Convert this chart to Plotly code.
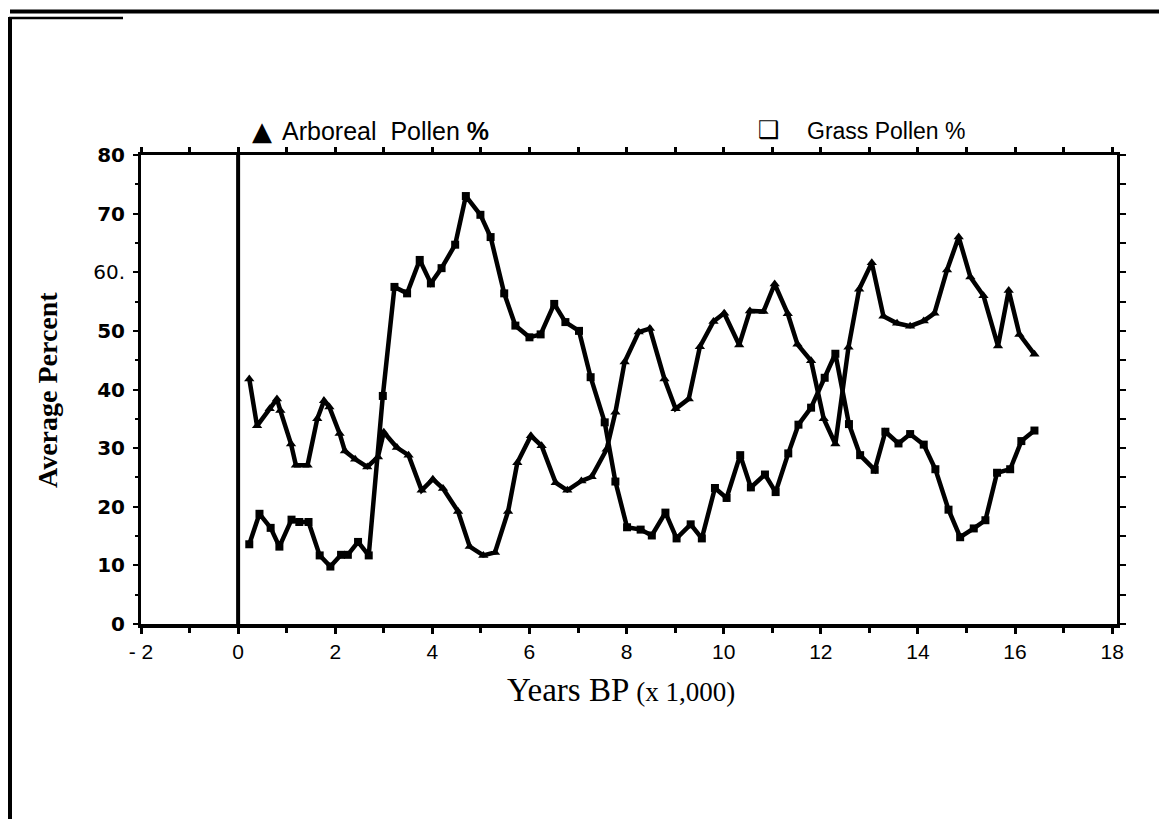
import plotly.graph_objects as go

# ---- data ----
grass_x = [0.23, 0.44, 0.67, 0.85, 1.10, 1.26, 1.45, 1.68, 1.90, 2.12, 2.26, 2.47, 2.69,
           2.98, 3.22, 3.48, 3.74, 3.97, 4.19, 4.47, 4.69, 4.99, 5.20, 5.48, 5.71, 6.00,
           6.23, 6.51, 6.74, 7.02, 7.26, 7.55, 7.77, 8.01, 8.29, 8.52, 8.80, 9.03, 9.32,
           9.55, 9.82, 10.06, 10.34, 10.56, 10.85, 11.07, 11.33, 11.54, 11.80, 12.08, 12.30,
           12.58, 12.81, 13.11, 13.33, 13.60, 13.84, 14.12, 14.36, 14.63, 14.87, 15.15,
           15.39, 15.63, 15.90, 16.13, 16.40]
grass_y = [13.6, 18.8, 16.4, 13.2, 17.8, 17.4, 17.4, 11.7, 9.8, 11.8, 11.8, 14.0, 11.7,
           38.9, 57.5, 56.4, 62.1, 58.1, 60.7, 64.7, 73.0, 69.8, 66.0, 56.4, 50.9, 48.9,
           49.4, 54.6, 51.5, 50.0, 42.1, 34.4, 24.3, 16.5, 16.1, 15.1, 19.0, 14.6, 17.0,
           14.6, 23.2, 21.5, 28.8, 23.3, 25.5, 22.5, 29.1, 34.0, 36.9, 42.0, 46.1,
           34.1, 28.8, 26.3, 32.8, 30.8, 32.4, 30.6, 26.4, 19.5, 14.8, 16.3,
           17.7, 25.8, 26.4, 31.2, 33.0]

arb_x = [0.23, 0.39, 0.65, 0.80, 0.87, 1.09, 1.19, 1.43, 1.63, 1.77, 1.88, 2.09, 2.20,
         2.41, 2.66, 2.88, 3.00, 3.27, 3.51, 3.78, 4.01, 4.22, 4.53, 4.77, 5.05, 5.29,
         5.56, 5.75, 6.03, 6.25, 6.54, 6.78, 7.07, 7.28, 7.59, 7.77, 7.96, 8.25, 8.48,
         8.78, 9.01, 9.28, 9.51, 9.79, 10.01, 10.32, 10.54, 10.82, 11.05, 11.32, 11.52,
         11.80, 12.06, 12.30, 12.57, 12.79, 13.05, 13.29, 13.57, 13.84, 14.12, 14.34,
         14.60, 14.84, 15.08, 15.35, 15.65, 15.87, 16.09, 16.40]
arb_y = [41.8, 33.8, 36.7, 38.4, 36.4, 30.7, 27.1, 27.1, 35.0, 38.1, 37.0, 32.5, 29.5,
         28.1, 26.8, 28.5, 32.7, 30.1, 28.8, 22.8, 24.7, 23.1, 19.2, 13.2, 11.7, 12.2,
         19.2, 27.5, 32.1, 30.4, 24.1, 22.8, 24.4, 25.1, 29.8, 36.1, 44.7, 49.8, 50.4,
         41.8, 36.7, 38.4, 47.3, 51.6, 53.0, 47.6, 53.4, 53.3, 58.0, 52.9, 47.7,
         44.9, 35.0, 30.7, 47.2, 57.1, 61.6, 52.5, 51.3, 50.8, 51.7, 53.0,
         60.4, 66.0, 59.2, 56.0, 47.4, 56.9, 49.4, 46.0]

x_tickvals = [-2, 0, 2, 4, 6, 8, 10, 12, 14, 16, 18]
x_ticktext = ["- 2", "0", "2", "4", "6", "8", "10", "12", "14", "16", "18"]
y_tickvals = [0, 10, 20, 30, 40, 50, 60, 70, 80]
y_ticktext = ["<b>0</b>", "<b>10</b>", "<b>20</b>", "<b>30</b>", "<b>40</b>",
              "<b>50</b>", "60.", "<b>70</b>", "<b>80</b>"]

X_RANGE = [-2, 18.1]
Y_RANGE = [0, 80]

fig = go.Figure()

fig.add_trace(go.Scatter(
    x=arb_x, y=arb_y, mode="lines+markers", name="Arboreal Pollen %",
    line=dict(color="black", width=4.5),
    marker=dict(symbol="triangle-up", size=9, color="black"),
    showlegend=False))
fig.add_trace(go.Scatter(
    x=grass_x, y=grass_y, mode="lines+markers", name="Grass Pollen %",
    line=dict(color="black", width=4.5),
    marker=dict(symbol="square", size=8, color="black"),
    showlegend=False))
# helper trace so that the mirrored top/right axes are drawn
fig.add_trace(go.Scatter(x=[1], y=[1], xaxis="x2", yaxis="y2", mode="markers",
                         marker=dict(opacity=0), hoverinfo="skip", showlegend=False))

# page offset (default body margin of the html page)
OFF = 8
W, H = 1167 - OFF, 819 - OFF
# plot area in screen pixels
PL, PR, PT, PB = 141, 1117, 155, 624
L, R, T, B = PL - OFF, 1167 - PR, PT - OFF, 819 - PB
pw, ph = W - L - R, H - T - B


def px(xs):
    """screen x pixel -> paper coordinate"""
    return (xs - PL) / pw


def py(ys):
    """screen y pixel -> paper coordinate"""
    return (PB - ys) / ph


fig.update_layout(
    width=W, height=H, autosize=False,
    margin=dict(l=L, r=R, t=T, b=B, pad=0),
    paper_bgcolor="white", plot_bgcolor="white",
    xaxis=dict(range=X_RANGE, tickmode="array", tickvals=x_tickvals, ticktext=x_ticktext,
               ticks="outside", ticklen=6, tickwidth=3, tickcolor="black",
               minor=dict(dtick=1, tick0=-2, ticks="outside", ticklen=5, tickwidth=3,
                          tickcolor="black"),
               showline=True, linewidth=4, linecolor="black",
               showgrid=False, zeroline=False,
               tickfont=dict(family="Liberation Sans, Arial", size=21, color="black")),
    yaxis=dict(range=Y_RANGE, tickmode="array", tickvals=y_tickvals, ticktext=y_ticktext,
               ticks="outside", ticklen=5, tickwidth=2, tickcolor="black",
               minor=dict(dtick=5, tick0=0, ticks="outside", ticklen=3, tickwidth=2,
                          tickcolor="black"),
               showline=True, linewidth=3, linecolor="black",
               showgrid=False, zeroline=False, ticklabelstandoff=4,
               tickfont=dict(family="DejaVu Sans", size=20, color="black")),
    xaxis2=dict(range=X_RANGE, overlaying="x", side="top", tickmode="linear", tick0=0,
                dtick=1, ticks="outside", ticklen=5, tickwidth=3, tickcolor="black",
                showticklabels=False, showline=True, linewidth=3, linecolor="black",
                showgrid=False, zeroline=False),
    yaxis2=dict(range=Y_RANGE, overlaying="y", side="right", tickmode="linear", tick0=0,
                dtick=5, ticks="outside", ticklen=6, tickwidth=2, tickcolor="black",
                showticklabels=False, showline=True, linewidth=2.5, linecolor="black",
                showgrid=False, zeroline=False),
    showlegend=False,
)

# thick vertical line at x = 0
fig.add_shape(type="line", xref="x", yref="y", x0=0, x1=0, y0=0, y1=80,
              line=dict(color="black", width=4))

# page frame lines of the scanned figure
fig.add_shape(type="line", xref="paper", yref="paper", x0=px(10), x1=px(1170),
              y0=py(11.5), y1=py(11.5), line=dict(color="black", width=4))
fig.add_shape(type="line", xref="paper", yref="paper", x0=px(9), x1=px(123),
              y0=py(18), y1=py(18), line=dict(color="black", width=2.5))
fig.add_shape(type="line", xref="paper", yref="paper", x0=px(10), x1=px(10),
              y0=py(17), y1=py(825), line=dict(color="black", width=4))

# legend texts
fig.add_annotation(xref="paper", yref="paper", x=px(262), y=py(131), xanchor="center",
                   yanchor="middle", showarrow=False, text="▲",
                   font=dict(family="DejaVu Sans", size=26, color="black"))
fig.add_annotation(xref="paper", yref="paper", x=px(280), y=py(131), xanchor="left",
                   yanchor="middle", showarrow=False,
                   text="Arboreal  Pollen <b>%</b>",
                   font=dict(family="Liberation Sans, Arial", size=25, color="black"))
fig.add_annotation(xref="paper", yref="paper", x=px(769), y=py(130), xanchor="center",
                   yanchor="middle", showarrow=False, text="❑",
                   font=dict(family="DejaVu Sans", size=24, color="black"))
fig.add_annotation(xref="paper", yref="paper", x=px(805), y=py(131), xanchor="left",
                   yanchor="middle", showarrow=False,
                   text="Grass Pollen %",
                   font=dict(family="Liberation Sans, Arial", size=23, color="black"))

# axis titles
fig.add_annotation(xref="paper", yref="paper", x=px(47), y=py(390), xanchor="center",
                   yanchor="middle", showarrow=False, textangle=-90,
                   text="<b>Average Percent</b>",
                   font=dict(family="Liberation Serif, Times New Roman", size=28, color="black"))
fig.add_annotation(xref="paper", yref="paper", x=px(621), y=py(690), xanchor="center",
                   yanchor="middle", showarrow=False,
                   text="Years BP <span style='font-size:27px'>(x 1,000)</span>",
                   font=dict(family="Liberation Serif, Times New Roman", size=33, color="black"))

fig.write_html("out.html")
